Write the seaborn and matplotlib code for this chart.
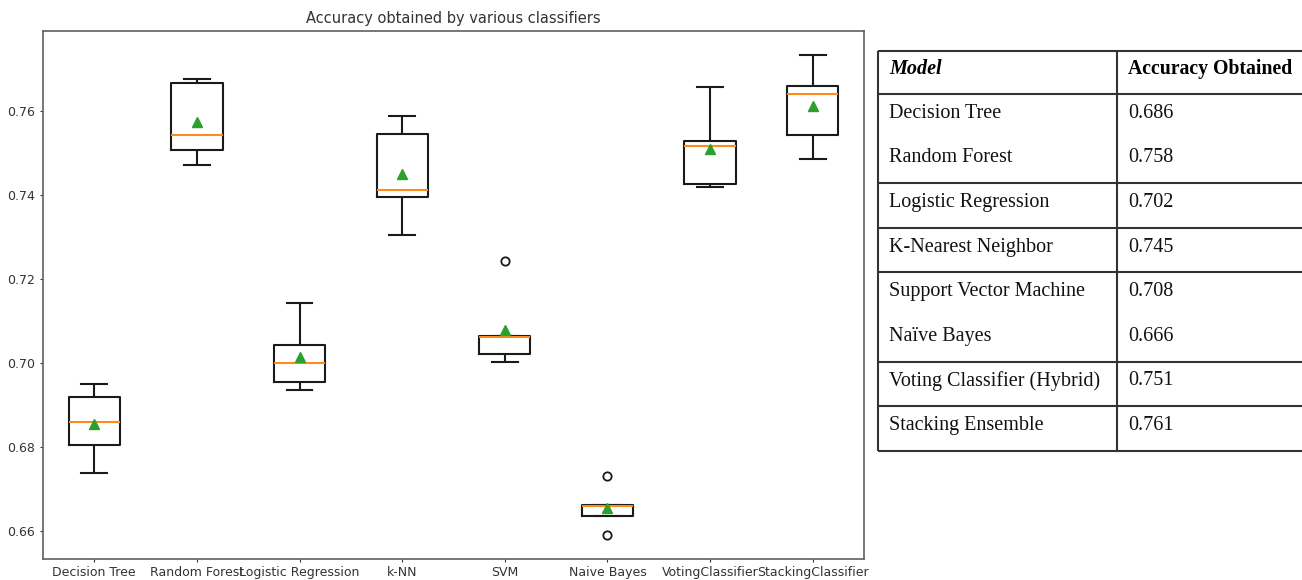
import numpy as np
import pandas as pd
import matplotlib
matplotlib.use("Agg")
import matplotlib.pyplot as plt
import seaborn as sns

# ---------------- data ----------------
classifiers = ["Decision Tree", "Random Forest", "Logistic Regression", "k-NN",
               "SVM", "Naive Bayes", "VotingClassifier", "StackingClassifier"]
# 5-fold cross-validation accuracies
dt_scores = [0.6737, 0.6804, 0.6859, 0.6920, 0.6950]
rf_scores = [0.7472, 0.7508, 0.7543, 0.7668, 0.7676]
lr_scores = [0.6935, 0.6954, 0.6999, 0.7042, 0.7142]
knn_scores = [0.7304, 0.7396, 0.7412, 0.7546, 0.7588]
svm_scores = [0.7003, 0.7022, 0.7061, 0.7064, 0.7242]
nb_scores = [0.6591, 0.6636, 0.6659, 0.6662, 0.6730]
vc_scores = [0.7420, 0.7427, 0.7516, 0.7528, 0.7658]
sc_scores = [0.7485, 0.7544, 0.7642, 0.7661, 0.7734]
yticks = [0.66, 0.68, 0.70, 0.72, 0.74, 0.76]

table_header = ["Model", "Accuracy Obtained"]
table_models = ["Decision Tree", "Random Forest", "Logistic Regression",
                "K-Nearest Neighbor", "Support Vector Machine", "Naïve Bayes",
                "Voting Classifier (Hybrid)", "Stacking Ensemble"]
table_acc = ["0.686", "0.758", "0.702", "0.745", "0.708", "0.666", "0.751", "0.761"]

all_scores = [dt_scores, rf_scores, lr_scores, knn_scores,
              svm_scores, nb_scores, vc_scores, sc_scores]
df = pd.DataFrame({
    "classifier": [c for c, s in zip(classifiers, all_scores) for _ in s],
    "accuracy": [v for s in all_scores for v in s],
})

# ---------------- figure ----------------
W, H = 1302, 580
fig = plt.figure(figsize=(W / 100, H / 100), dpi=100)
ax = fig.add_axes([43 / W, 1 - 559 / H, (864 - 43) / W, (559 - 31) / H])

sns.boxplot(
    data=df, x="classifier", y="accuracy", order=classifiers, ax=ax,
    width=0.5, fill=False, color="#1a1a1a", linewidth=1.5, whis=1.5,
    showmeans=True,
    medianprops=dict(color="#ff8c1a", linewidth=1.5),
    meanprops=dict(marker="^", markerfacecolor="#2ca02c",
                   markeredgecolor="#2ca02c", markersize=6.5),
    flierprops=dict(marker="o", markerfacecolor="none",
                    markeredgecolor="#1a1a1a", markersize=6, markeredgewidth=1.3),
)
ax.set_xlabel("")
ax.set_ylabel("")
ax.set_ylim(0.6533, 0.7791)
ax.set_yticks(yticks)
ax.set_yticklabels([f"{t:.2f}" for t in yticks])
ax.tick_params(labelsize=9, colors="#333333", length=2.5, pad=2.5)
ax.tick_params(axis="y", pad=3.5)
for sp in ax.spines.values():
    sp.set_color("#606060")
    sp.set_linewidth(1.2)
ax.set_title("Accuracy obtained by various classifiers", fontsize=10.5,
             color="#333333", pad=6)

# ---------------- table ----------------
tax = fig.add_axes([0, 0, 1, 1])
tax.set_xlim(0, W)
tax.set_ylim(H, 0)
tax.axis("off")

x_left, x_mid, x_right = 878, 1117, 1302
row_h = 44.6
top = 51
header_bottom = 94
# groups of rows sharing one table cell
row_groups = [2, 1, 1, 2, 1, 1]
hlines = [top, header_bottom]
y = header_bottom
for g in row_groups:
    y += g * row_h
    hlines.append(y)
lc = "#333333"
for yy in hlines:
    tax.plot([x_left, x_right], [yy, yy], color=lc, lw=1.5, solid_capstyle="butt")
for xx in (x_left, x_mid):
    tax.plot([xx, xx], [top, hlines[-1]], color=lc, lw=1.5, solid_capstyle="butt")

serif = ["Liberation Serif", "DejaVu Serif"]
fs = 14.5
tax.text(889, 69, table_header[0], fontsize=fs, family=serif,
         fontweight="bold", fontstyle="italic", va="center", ha="left")
tax.text(1128, 69, table_header[1], fontsize=14.2, family=serif,
         fontweight="bold", va="center", ha="left")
for i, (m, a) in enumerate(zip(table_models, table_acc)):
    yy = header_bottom + row_h * (i + 0.5) - 3
    tax.text(889, yy, m, fontsize=fs, family=serif, va="center", ha="left",
             color="#111111")
    tax.text(1128, yy, a, fontsize=fs, family=serif, va="center", ha="left",
             color="#111111")

fig.savefig("out.png", dpi=100)
